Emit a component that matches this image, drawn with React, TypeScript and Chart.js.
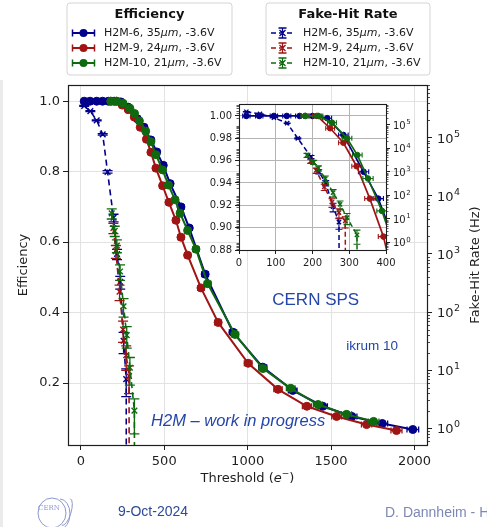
import React, { useEffect, useRef } from 'react';
import { Chart, registerables } from 'chart.js';

Chart.register(...registerables);

// ---------------- data ----------------
const seriesNames = ['H2M-6', 'H2M-9', 'H2M-10'];
const pixelThicknessUm = [35, 24, 21];
const biasVoltage = '-3.6V';
const seriesColors = ['#00008b', '#a01414', '#0f6a0f'];

// Efficiency vs threshold (e-), horizontal error = threshold uncertainty
const effThrH2M6 = [20, 55, 95, 130, 165, 200, 240, 284, 339, 379, 420, 455, 494, 535, 600, 650, 745, 912, 1090, 1270, 1450, 1625, 1807, 1990];
const effH2M6 = [1.0, 1.0, 1.0, 1.0, 1.0, 1.0, 0.998, 0.983, 0.95, 0.926, 0.89, 0.856, 0.818, 0.766, 0.70, 0.64, 0.509, 0.344, 0.245, 0.179, 0.134, 0.105, 0.085, 0.068];
const effErrH2M6 = [10, 10, 10, 11, 11, 12, 12, 13, 14, 14, 15, 15, 16, 16, 18, 18, 20, 22, 24, 26, 28, 30, 32, 35];

const effThrH2M9 = [180, 212, 248, 284, 320, 356, 393, 420, 450, 490, 528, 570, 600, 640, 720, 823, 1003, 1182, 1355, 1533, 1713, 1892];
const effH2M9 = [1.0, 1.0, 0.989, 0.976, 0.955, 0.926, 0.892, 0.855, 0.81, 0.76, 0.713, 0.662, 0.614, 0.563, 0.47, 0.372, 0.256, 0.182, 0.134, 0.105, 0.082, 0.065];
const effErrH2M9 = [11, 12, 12, 13, 13, 14, 14, 15, 15, 16, 16, 17, 18, 18, 19, 20, 23, 25, 27, 29, 31, 33];

const effThrH2M10 = [180, 216, 253, 294, 322, 351, 389, 420, 450, 490, 525, 565, 595, 640, 690, 760, 924, 1092, 1258, 1422, 1593, 1755];
const effH2M10 = [1.0, 1.0, 0.994, 0.98, 0.965, 0.944, 0.915, 0.885, 0.848, 0.805, 0.762, 0.72, 0.682, 0.633, 0.58, 0.482, 0.338, 0.241, 0.185, 0.139, 0.111, 0.091];
const effErrH2M10 = [11, 12, 12, 13, 13, 14, 14, 15, 15, 16, 16, 17, 18, 18, 19, 20, 22, 24, 26, 28, 30, 32];

// Fake-hit rate (Hz) vs threshold, relative vertical error; 0 = no fake hits
const fakeThrH2M6 = [20, 57, 95, 131, 160, 196, 217, 236, 256, 272, 280];
const fakeRateH2M6 = [355000, 288000, 200000, 115000, 26000, 4200, 1000, 330, 32, 7, 0];
const fakeRelErrH2M6 = [0.02, 0.02, 0.02, 0.03, 0.05, 0.15, 0.2, 0.25, 0.4, 0.5, 0];

const fakeThrH2M9 = [195, 210, 232, 253, 272, 289, 300];
const fakeRateH2M9 = [2800, 1120, 224, 50, 18, 7.9, 0];
const fakeRelErrH2M9 = [0.2, 0.25, 0.3, 0.4, 0.45, 0.5, 0];

const fakeThrH2M10 = [185, 203, 216, 235, 256, 275, 294, 321, 330];
const fakeRateH2M10 = [5000, 2500, 1400, 500, 126, 40, 11, 2, 0];
const fakeRelErrH2M10 = [0.2, 0.2, 0.25, 0.3, 0.35, 0.4, 0.5, 0.6, 0];

// ticks
const xTicks = [0, 500, 1000, 1500, 2000];
const effTicks = [0.2, 0.4, 0.6, 0.8, 1.0];
const rateTicks = [1, 10, 100, 1000, 10000, 100000];
const insetXTicks = [0, 100, 200, 300, 400];
const insetEffTicks = [0.88, 0.9, 0.92, 0.94, 0.96, 0.98, 1.0];

// ---------------- helpers ----------------
const FONT = "'DejaVu Sans', sans-serif";
const ARIAL = "'Liberation Sans', Arial, sans-serif";
const INK = '#1e1e1e';

type Style = { lw: number; r: number; capHalf: number; errLw: number; fr: number; flw: number; dash: number[]; fcap: number };

function buildDatasets(st: Style) {
  const effSets: [number[], number[], number[]][] = [
    [effThrH2M6, effH2M6, effErrH2M6],
    [effThrH2M9, effH2M9, effErrH2M9],
    [effThrH2M10, effH2M10, effErrH2M10],
  ];
  const fakeSets: [number[], number[], number[]][] = [
    [fakeThrH2M6, fakeRateH2M6, fakeRelErrH2M6],
    [fakeThrH2M9, fakeRateH2M9, fakeRelErrH2M9],
    [fakeThrH2M10, fakeRateH2M10, fakeRelErrH2M10],
  ];
  const out: any[] = [];
  effSets.forEach(([thr, val, err], i) => {
    const c = seriesColors[i];
    out.push({
      type: 'line',
      label: `${seriesNames[i]} efficiency`,
      data: thr.map((x, j) => ({ x, y: val[j] })),
      xAxisID: 'x',
      yAxisID: 'y',
      borderColor: c,
      backgroundColor: c,
      pointBackgroundColor: c,
      pointBorderColor: c,
      borderWidth: st.lw,
      pointRadius: st.r,
      pointHoverRadius: st.r,
      pointBorderWidth: 1,
      pointStyle: 'circle',
      tension: 0,
      fill: false,
      clip: 0,
      order: 6 - i,
      errX: err,
      capHalf: st.capHalf,
      errLineWidth: st.errLw,
    });
  });
  fakeSets.forEach(([thr, rate, rel], i) => {
    const c = seriesColors[i];
    out.push({
      type: 'line',
      label: `${seriesNames[i]} fake-hit rate`,
      data: thr.map((x, j) => ({ x, y: rate[j] > 0 ? rate[j] : 1e-30 })),
      rawY: rate,
      xAxisID: 'x',
      yAxisID: 'y2',
      borderColor: c,
      backgroundColor: c,
      pointBorderColor: c,
      borderWidth: st.flw,
      borderDash: st.dash,
      pointStyle: 'crossRot',
      pointRadius: (ctx: any) => (rate[ctx.dataIndex] > 0 ? st.fr : 0),
      pointHoverRadius: st.fr,
      pointBorderWidth: 1.4,
      tension: 0,
      fill: false,
      clip: 0,
      order: 3 - i,
      errYRel: rel,
      capHalf: st.fcap,
      errLineWidth: st.errLw,
    });
  });
  return out;
}

const errorBarPlugin = {
  id: 'errorBars',
  beforeDatasetDraw(chart: any, args: any) {
    const ds: any = chart.data.datasets[args.index];
    const meta = args.meta;
    const xs = chart.scales[meta.xAxisID];
    const ys = chart.scales[meta.yAxisID];
    const a = chart.chartArea;
    const ctx = chart.ctx;
    ctx.save();
    ctx.beginPath();
    ctx.rect(a.left, a.top, a.right - a.left, a.bottom - a.top);
    ctx.clip();
    ctx.strokeStyle = ds.borderColor;
    ctx.lineWidth = ds.errLineWidth;
    ctx.setLineDash([]);
    const cap = ds.capHalf;
    ds.data.forEach((p: any, i: number) => {
      ctx.beginPath();
      if (ds.errX) {
        const e = ds.errX[i];
        const y = ys.getPixelForValue(p.y);
        const x1 = xs.getPixelForValue(p.x - e);
        const x2 = xs.getPixelForValue(p.x + e);
        ctx.moveTo(x1, y); ctx.lineTo(x2, y);
        ctx.moveTo(x1, y - cap); ctx.lineTo(x1, y + cap);
        ctx.moveTo(x2, y - cap); ctx.lineTo(x2, y + cap);
      }
      if (ds.errYRel && ds.rawY[i] > 0) {
        const f = ds.errYRel[i];
        const x = xs.getPixelForValue(p.x);
        const yHi = ys.getPixelForValue(ds.rawY[i] * (1 + f));
        const yLo = f < 1 ? ys.getPixelForValue(ds.rawY[i] * (1 - f)) : a.bottom + 10;
        ctx.moveTo(x, yHi); ctx.lineTo(x, yLo);
        ctx.moveTo(x - cap, yHi); ctx.lineTo(x + cap, yHi);
        ctx.moveTo(x - cap, yLo); ctx.lineTo(x + cap, yLo);
      }
      ctx.stroke();
    });
    ctx.restore();
  },
};

function logMinorTicks(ctx: any, scale: any, x: number, dir: number, len: number) {
  const lo = Math.floor(Math.log10(scale.min));
  const hi = Math.ceil(Math.log10(scale.max));
  for (let n = lo; n <= hi; n++) {
    for (let k = 2; k <= 9; k++) {
      const v = k * Math.pow(10, n);
      if (v < scale.min || v > scale.max) continue;
      const y = Math.round(scale.getPixelForValue(v)) + 0.5;
      ctx.moveTo(x, y);
      ctx.lineTo(x + dir * len, y);
    }
  }
}

// "10" with a raised exponent, like matplotlib's log tick labels
function drawPowLabels(ctx: any, scale: any, x: number, base: number, sup: number, rise: number) {
  ctx.save();
  ctx.fillStyle = INK;
  ctx.textAlign = 'left';
  ctx.textBaseline = 'middle';
  rateTicks.forEach((v) => {
    const y = scale.getPixelForValue(v);
    ctx.font = `${base}px ${FONT}`;
    ctx.fillText('10', x, y + 1.5);
    const w = ctx.measureText('10').width;
    ctx.font = `${sup}px ${FONT}`;
    ctx.fillText(String(Math.round(Math.log10(v))), x + w + 0.5, y + 1.5 - rise);
  });
  ctx.restore();
}

function drawFrame(ctx: any, a: any, lw: number) {
  ctx.save();
  ctx.strokeStyle = INK;
  ctx.lineWidth = lw;
  ctx.strokeRect(Math.round(a.left) + 0.5, Math.round(a.top) + 0.5, Math.round(a.right - a.left), Math.round(a.bottom - a.top));
  ctx.restore();
}

function drawSegments(ctx: any, parts: { t: string; font: string; dy?: number }[], x: number, y: number, align: 'left' | 'center') {
  let total = 0;
  parts.forEach((p) => { ctx.font = p.font; total += ctx.measureText(p.t).width; });
  let cx = align === 'center' ? x - total / 2 : x;
  ctx.textAlign = 'left';
  parts.forEach((p) => {
    ctx.font = p.font;
    ctx.fillText(p.t, cx, y + (p.dy || 0));
    cx += ctx.measureText(p.t).width;
  });
}

function drawLegend(ctx: any, x0: number, y0: number, x1: number, y1: number, title: string, kind: 'eff' | 'fake') {
  ctx.save();
  const r = 3;
  ctx.beginPath();
  ctx.moveTo(x0 + r, y0);
  ctx.arcTo(x1, y0, x1, y1, r);
  ctx.arcTo(x1, y1, x0, y1, r);
  ctx.arcTo(x0, y1, x0, y0, r);
  ctx.arcTo(x0, y0, x1, y0, r);
  ctx.closePath();
  ctx.fillStyle = 'rgba(255,255,255,0.85)';
  ctx.fill();
  ctx.strokeStyle = '#d4d4d4';
  ctx.lineWidth = 1;
  ctx.stroke();

  ctx.fillStyle = '#111';
  ctx.textAlign = 'center';
  ctx.textBaseline = 'middle';
  ctx.font = `bold 13px ${FONT}`;
  ctx.fillText(title, (x0 + x1) / 2, y0 + 11.5);

  seriesNames.forEach((name, i) => {
    const y = y0 + 30 + i * 15;
    const c = seriesColors[i];
    const mx0 = x0 + 5;
    const mx1 = x0 + 28;
    const cx = (mx0 + mx1) / 2;
    ctx.strokeStyle = c;
    ctx.fillStyle = c;
    if (kind === 'eff') {
      ctx.lineWidth = 2;
      ctx.setLineDash([]);
      ctx.beginPath(); ctx.moveTo(mx0, y); ctx.lineTo(mx1, y); ctx.stroke();
      ctx.lineWidth = 1.5;
      ctx.beginPath();
      ctx.moveTo(mx0 + 0.5, y - 3.5); ctx.lineTo(mx0 + 0.5, y + 3.5);
      ctx.moveTo(mx1 - 0.5, y - 3.5); ctx.lineTo(mx1 - 0.5, y + 3.5);
      ctx.stroke();
      ctx.beginPath(); ctx.arc(cx, y, 4, 0, Math.PI * 2); ctx.fill();
    } else {
      ctx.lineWidth = 1.6;
      ctx.setLineDash([5, 3]);
      ctx.beginPath(); ctx.moveTo(mx0, y); ctx.lineTo(mx1, y); ctx.stroke();
      ctx.setLineDash([]);
      ctx.lineWidth = 1.3;
      ctx.beginPath();
      ctx.moveTo(cx, y - 5); ctx.lineTo(cx, y + 5);
      ctx.moveTo(cx - 4, y - 5); ctx.lineTo(cx + 4, y - 5);
      ctx.moveTo(cx - 4, y + 5); ctx.lineTo(cx + 4, y + 5);
      ctx.moveTo(cx - 3, y - 3); ctx.lineTo(cx + 3, y + 3);
      ctx.moveTo(cx - 3, y + 3); ctx.lineTo(cx + 3, y - 3);
      ctx.stroke();
    }
    ctx.fillStyle = '#1a1a1a';
    ctx.textBaseline = 'middle';
    drawSegments(ctx, [
      { t: `${name}, ${pixelThicknessUm[i]}`, font: `11px ${FONT}` },
      { t: 'μm', font: `italic 11px ${FONT}` },
      { t: `, ${biasVoltage}`, font: `11px ${FONT}` },
    ], x0 + 37, y, 'left');
  });
  ctx.restore();
}

const mainDecorPlugin = {
  id: 'mainDecor',
  beforeDraw(chart: any) {
    const ctx = chart.ctx;
    ctx.save();
    ctx.fillStyle = '#ffffff';
    ctx.fillRect(0, 0, chart.width, chart.height);
    ctx.fillStyle = '#ebebeb';
    ctx.fillRect(0, 80, 3, chart.height - 80);
    ctx.restore();
  },
  afterDatasetsDraw(chart: any) {
    const ctx = chart.ctx;
    const a = chart.chartArea;
    drawFrame(ctx, a, 1.2);
    ctx.save();
    ctx.strokeStyle = INK;
    ctx.lineWidth = 0.8;
    ctx.beginPath();
    logMinorTicks(ctx, chart.scales.y2, a.right, 1, 3);
    ctx.stroke();
    ctx.restore();

    // annotations (axes-fraction placement)
    const W = a.right - a.left;
    const H = a.bottom - a.top;
    ctx.save();
    ctx.fillStyle = '#2446a8';
    ctx.textAlign = 'center';
    ctx.textBaseline = 'middle';
    ctx.font = `17px ${ARIAL}`;
    ctx.fillText('CERN SPS', a.left + 0.69 * W, a.top + 0.597 * H);
    ctx.font = `13.5px ${ARIAL}`;
    ctx.fillText('ikrum 10', a.left + 0.847 * W, a.top + 0.725 * H);
    ctx.font = `italic 16.5px ${ARIAL}`;
    ctx.fillText('H2M – work in progress', a.left + 0.474 * W, a.top + 0.935 * H);
    ctx.restore();
  },
  afterDraw(chart: any) {
    const ctx = chart.ctx;
    const a = chart.chartArea;
    drawPowLabels(ctx, chart.scales.y2, a.right + 10, 13, 9.5, 5);
    ctx.save();
    ctx.fillStyle = INK;
    ctx.textBaseline = 'middle';
    // x-axis title
    drawSegments(ctx, [
      { t: 'Threshold (', font: `13px ${FONT}` },
      { t: 'e', font: `italic 13px ${FONT}` },
      { t: '−', font: `9px ${FONT}`, dy: -5 },
      { t: ')', font: `13px ${FONT}` },
    ], (a.left + a.right) / 2, 479, 'center');
    // right-axis title (reads bottom to top)
    ctx.translate(476, (a.top + a.bottom) / 2);
    ctx.rotate(-Math.PI / 2);
    ctx.textAlign = 'center';
    ctx.font = `13px ${FONT}`;
    ctx.fillText('Fake-Hit Rate (Hz)', 0, 0);
    ctx.restore();

    drawLegend(ctx, 67, 3, 232, 75, 'Efficiency', 'eff');
    drawLegend(ctx, 266, 3, 430, 75, 'Fake-Hit Rate', 'fake');

    // footer
    ctx.save();
    ctx.strokeStyle = '#8d98cf';
    ctx.fillStyle = '#8d98cf';
    ctx.lineWidth = 1;
    ctx.beginPath(); ctx.ellipse(52, 513, 14, 15, 0, 0, Math.PI * 2); ctx.stroke();
    ctx.beginPath(); ctx.ellipse(60, 514, 10, 15, 0, -Math.PI / 2, Math.PI / 2); ctx.stroke();
    ctx.beginPath(); ctx.ellipse(66, 512, 5, 14, 0.3, -Math.PI / 2, Math.PI / 2); ctx.stroke();
    ctx.font = `7px 'DejaVu Serif', serif`;
    ctx.textAlign = 'center';
    ctx.textBaseline = 'middle';
    ctx.fillText('CERN', 49, 508);
    ctx.fillStyle = '#2d4a98';
    ctx.font = `14px ${ARIAL}`;
    ctx.textAlign = 'left';
    ctx.fillText('9-Oct-2024', 118, 512);
    ctx.fillStyle = '#7d88b6';
    ctx.fillText('D. Dannheim - H2M', 385, 513);
    ctx.restore();
  },
};

const insetDecorPlugin = {
  id: 'insetDecor',
  beforeDraw(chart: any) {
    const a = chart.chartArea;
    const ctx = chart.ctx;
    ctx.save();
    ctx.fillStyle = '#ffffff';
    ctx.fillRect(a.left, a.top, a.right - a.left, a.bottom - a.top);
    ctx.restore();
  },
  afterDatasetsDraw(chart: any) {
    const a = chart.chartArea;
    const ctx = chart.ctx;
    drawFrame(ctx, a, 1.1);
    ctx.save();
    ctx.strokeStyle = INK;
    ctx.lineWidth = 0.7;
    ctx.beginPath();
    logMinorTicks(ctx, chart.scales.y2, a.right, 1, 2.5);
    logMinorTicks(ctx, chart.scales.y2, a.left, -1, 2.5);
    ctx.stroke();
    ctx.restore();
  },
  afterDraw(chart: any) {
    const a = chart.chartArea;
    drawPowLabels(chart.ctx, chart.scales.y2, a.right + 7, 10, 7, 3.5);
  },
};

const MAIN_STYLE: Style = { lw: 2, r: 4, capHalf: 3, errLw: 1.3, fr: 4, flw: 1.6, dash: [6, 4], fcap: 5 };
const INSET_STYLE: Style = { lw: 1.7, r: 2.8, capHalf: 2.5, errLw: 1.1, fr: 3, flw: 1.5, dash: [5, 3], fcap: 3.5 };

function tickFont(size: number) {
  return { family: FONT, size };
}

function mainConfig(): any {
  return {
    type: 'line',
    data: { datasets: buildDatasets(MAIN_STYLE) },
    options: {
      animation: false,
      responsive: false,
      devicePixelRatio: 1,
      events: [],
      layout: { padding: { top: 85, left: 0, right: 0, bottom: 0 } },
      plugins: { legend: { display: false }, tooltip: { enabled: false } },
      scales: {
        x: {
          type: 'linear', position: 'bottom', min: -77, max: 2075,
          afterBuildTicks: (s: any) => { s.ticks = xTicks.map((v) => ({ value: v })); },
          afterFit: (s: any) => { s.height = 82; },
          ticks: { color: INK, font: tickFont(13), padding: 4, maxRotation: 0, autoSkip: false, callback: (v: any) => String(v) },
          grid: { color: '#e2e2e2', lineWidth: 1, tickLength: 5, tickColor: INK, tickWidth: 1 },
          border: { display: false },
        },
        y: {
          type: 'linear', position: 'left', min: 0.024, max: 1.046,
          afterBuildTicks: (s: any) => { s.ticks = effTicks.map((v) => ({ value: v })); },
          afterFit: (s: any) => { s.width = 68; },
          ticks: { color: INK, font: tickFont(13), padding: 3, autoSkip: false, callback: (v: any) => Number(v).toFixed(1) },
          grid: { color: '#e2e2e2', lineWidth: 1, tickLength: 5, tickColor: INK, tickWidth: 1 },
          border: { display: false },
          title: { display: true, text: 'Efficiency', color: INK, font: { family: FONT, size: 13 }, padding: { top: 16, bottom: 0 } },
        },
        y2: {
          type: 'logarithmic', position: 'right', min: 0.513, max: 813000,
          afterBuildTicks: (s: any) => { s.ticks = rateTicks.map((v) => ({ value: v })); },
          afterFit: (s: any) => { s.width = 60; },
          ticks: { color: INK, font: tickFont(13), padding: 5, autoSkip: false, callback: () => '' },
          grid: { drawOnChartArea: false, tickLength: 5, tickColor: INK, tickWidth: 1 },
          border: { display: false },
        },
      },
    },
    plugins: [errorBarPlugin, mainDecorPlugin],
  };
}

function insetConfig(): any {
  return {
    type: 'line',
    data: { datasets: buildDatasets(INSET_STYLE) },
    options: {
      animation: false,
      responsive: false,
      devicePixelRatio: 1,
      events: [],
      layout: { padding: { top: 7, left: 0, right: 0, bottom: 0 } },
      plugins: { legend: { display: false }, tooltip: { enabled: false } },
      scales: {
        x: {
          type: 'linear', position: 'bottom', min: 0, max: 400,
          afterBuildTicks: (s: any) => { s.ticks = insetXTicks.map((v) => ({ value: v })); },
          afterFit: (s: any) => { s.height = 20; },
          ticks: { color: INK, font: tickFont(10), padding: 3, maxRotation: 0, autoSkip: false, callback: (v: any) => String(v) },
          grid: { color: '#b4b4b4', lineWidth: 1, tickLength: 4, tickColor: INK, tickWidth: 1 },
          border: { display: false },
        },
        y: {
          type: 'linear', position: 'left', min: 0.88, max: 1.0107,
          afterBuildTicks: (s: any) => { s.ticks = insetEffTicks.map((v) => ({ value: v })); },
          afterFit: (s: any) => { s.width = 44; },
          ticks: { color: INK, font: tickFont(10), padding: 3, autoSkip: false, callback: (v: any) => Number(v).toFixed(2) },
          grid: { color: '#b4b4b4', lineWidth: 1, tickLength: 4, tickColor: INK, tickWidth: 1 },
          border: { display: false },
        },
        y2: {
          type: 'logarithmic', position: 'right', min: 0.457, max: 759000,
          afterBuildTicks: (s: any) => { s.ticks = rateTicks.map((v) => ({ value: v })); },
          afterFit: (s: any) => { s.width = 34; },
          ticks: { color: INK, font: tickFont(10), padding: 3, autoSkip: false, callback: () => '' },
          grid: { drawOnChartArea: false, tickLength: 4, tickColor: INK, tickWidth: 1 },
          border: { display: false },
        },
      },
    },
    plugins: [errorBarPlugin, insetDecorPlugin],
  };
}

export default function App() {
  const mainRef = useRef<HTMLCanvasElement>(null);
  const insetRef = useRef<HTMLCanvasElement>(null);
  useEffect(() => {
    const main = new Chart(mainRef.current as HTMLCanvasElement, mainConfig());
    const inset = new Chart(insetRef.current as HTMLCanvasElement, insetConfig());
    return () => {
      main.destroy();
      inset.destroy();
    };
  }, []);
  return (
    <div style={{ position: 'absolute', left: 0, top: 0, width: 487, height: 527, background: '#fff', overflow: 'hidden' }}>
      <canvas ref={mainRef} width={487} height={527} style={{ position: 'absolute', left: 0, top: 0, width: 487, height: 527 }} />
      <canvas ref={insetRef} width={225} height={175} style={{ position: 'absolute', left: 195, top: 95, width: 225, height: 175 }} />
    </div>
  );
}
